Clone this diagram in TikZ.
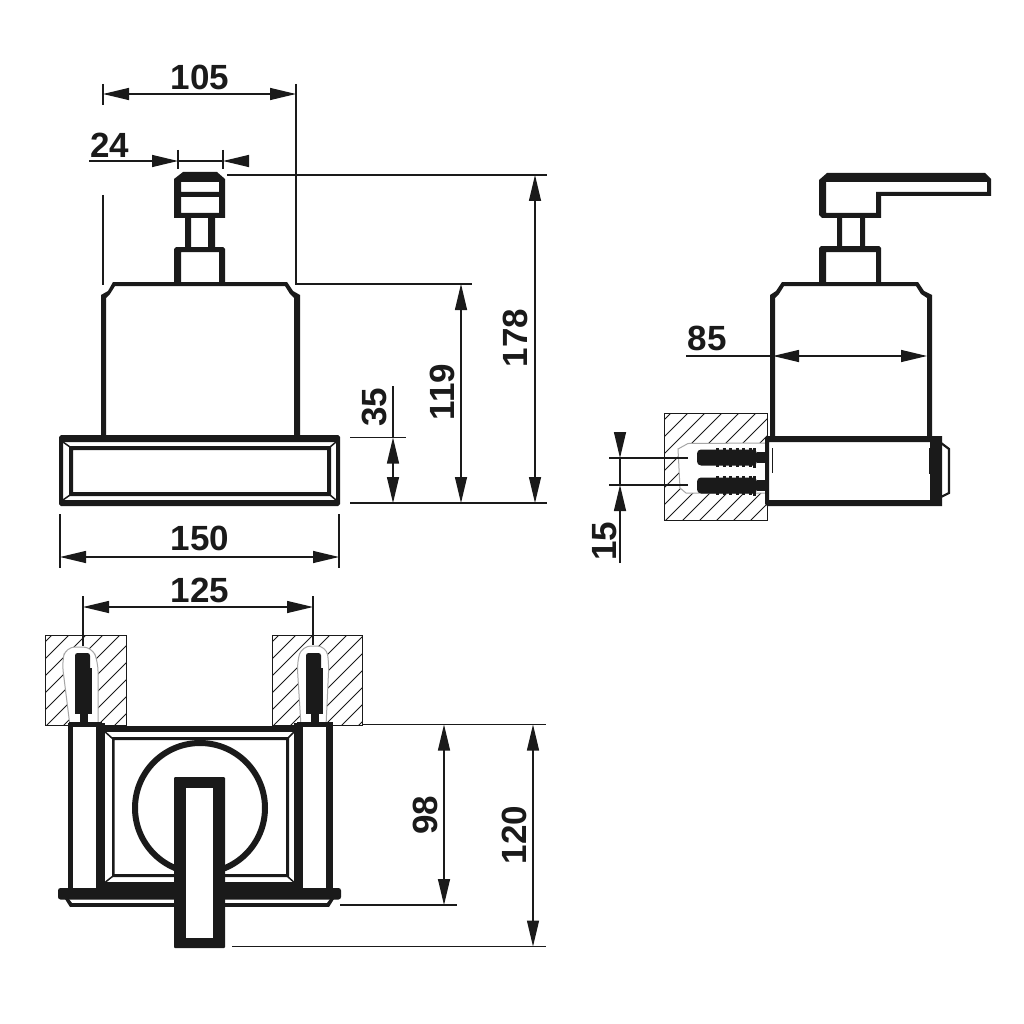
\documentclass[tikz,border=0pt]{standalone}
\usepackage{fontspec}
\setmainfont{Liberation Sans}
\usetikzlibrary{arrows.meta}
\definecolor{ink}{HTML}{1A1A1A}
\tikzset{
  dim/.style={draw=ink,line width=1.3pt},
  arr/.style={dim,-{Triangle[length=26pt,width=12pt]}},
  arrboth/.style={dim,{Triangle[length=26pt,width=12pt]}-{Triangle[length=26pt,width=12pt]}},
  label/.style={font=\fontsize{35}{35}\selectfont\bfseries,text=ink,inner sep=0pt},
  hatch/.style={draw=ink,line width=0.8pt},
  bold/.style={fill=ink,even odd rule},
  holeedge/.style={draw=gray!70,fill=white,line width=1pt},
  blockedge/.style={draw=ink,line width=1pt}
}
\newcommand{\hatchbox}[4]{%
  \begin{scope}
    \clip (#1,#2) rectangle (#3,#4);
    \foreach \k in {0,17,...,260}{\draw[hatch] (#1-110+\k,#4+10) -- ++(130,-130);}
  \end{scope}}
\begin{document}
\begin{tikzpicture}[x=1pt,y=-1pt]
\useasboundingbox (0,0) rectangle (1024,1024);
\fill[white] (0,0) rectangle (1024,1024);

%% ---------- front view ----------
\fill[bold] (183,172)--(217,172)--(225,179)--(225,218)--(174,218)--(174,179)--cycle
  (181,182) rectangle (219,192) (181,197) rectangle (219,213);
\fill[ink] (185,218) rectangle (191,248) (208,218) rectangle (215,248);
\fill[bold] (176,247)--(223,247)--(225,249)--(225,284)--(174,284)--(174,249)--cycle
  (181,252) rectangle (219,284);
\fill[bold] (113,282)--(287,282)--(293,291)--(300,295)--(300,438)--(101,438)--(101,295)--(108,291)--cycle
  (115,286)--(285,286)--(290,294)--(294,298)--(294,438)--(106,438)--(106,298)--(110,294)--cycle;
\fill[bold] (61,435)--(338,435)--(340,437)--(340,504)--(338,506)--(61,506)--(59,504)--(59,437)--cycle
  (63,442) rectangle (336,500);
\fill[bold] (69,446) rectangle (331,496) (73,450) rectangle (327,492);
\draw[ink,line width=1.5pt] (63,442)--(70,447) (336,442)--(330,447) (63,500)--(70,495) (336,500)--(330,495);

%% front dimensions
\coordinate (a1) at (103,94); \coordinate (a2) at (296,94);
\draw[arrboth] (a1)--(a2);
\draw[dim] (103,84)--(103,105) (296,84)--(296,284)--(472,284);
\draw[dim] (103,195)--(103,285);
\node[label] (t105) at (200,77) {105};
\draw[dim] (178,150)--(178,169) (223,150)--(223,169);
\coordinate (b0) at (89,161); \coordinate (b1) at (178,161); \coordinate (b2) at (223,161); \coordinate (b3) at (248,161);
\draw[arr] (b0)--(b1); \draw[arr] (b3)--(b2); \draw[dim] (b1)--(b2);
\node[label] (t24) at (110,145) {24};
\draw[dim] (227,175)--(547,175);
\draw[dim] (350,437.5)--(406,437.5) (350,503)--(547,503);
\draw[dim] (393,386)--(393,437.5);
\draw[arrboth] (393,437.5)--(393,503);
\node[label,rotate=90] (t35) at (374,407) {35};
\draw[arrboth] (461,284)--(461,503);
\node[label,rotate=90] (t119) at (442,392) {119};
\draw[arrboth] (535,175)--(535,503);
\node[label,rotate=90] (t178) at (515,338) {178};
\draw[dim] (60,514)--(60,568) (339,514)--(339,568);
\draw[arrboth] (60,557)--(339,557);
\node[label] (t150) at (200,538) {150};

%% ---------- side view ----------
\fill[bold] (827,173)--(985,173)--(991,179)--(991,196)--(881,196)--(881,218)--(822,218)--(819,215)--(819,180)--cycle
  (826,182)--(987,182)--(987,192)--(876,192)--(876,213)--(826,213)--cycle;
\fill[ink] (837,218) rectangle (842,248) (860,218) rectangle (865,248);
\fill[bold] (821,246)--(879,246)--(881,248)--(881,284)--(819,284)--(819,248)--cycle
  (826,252) rectangle (876,284);
\fill[bold] (782,282)--(918,282)--(924,291)--(932,295)--(932,438)--(770,438)--(770,295)--(776,291)--cycle
  (784,286)--(916,286)--(921,294)--(927,298)--(927,438)--(775,438)--(775,298)--(779,294)--cycle;

%% wall block side
\hatchbox{664}{413}{767}{520}
\draw[holeedge] (767,443)--(688,443.5)--(678,449)--(680,488)--(686,493)--(767,493);
\draw[blockedge] (664,413) rectangle (767,520);
\fill[bold] (767,436)--(942,436)--(942,506)--(767,506)--(765,504)--(765,438)--cycle
  (769,442) rectangle (930,500);
\fill[ink] (929,448) rectangle (935,474);
\draw[ink,line width=2.2pt] (941,443)--(949,449)--(949,493)--(941,497);
\draw[ink,line width=1pt] (772,448)--(772,473);
\foreach \yy in {457.5,485.5}{
  \fill[ink,rounded corners=4pt] (697,\yy-8) rectangle (757,\yy+8);
  \fill[ink] (757,\yy-5.5) rectangle (768,\yy+5.5);
  \fill[ink] (753,\yy-10) rectangle (756,\yy+10);
  \draw[ink,line width=2pt,dash pattern=on 3pt off 3.5pt] (716,\yy-8.5)--(752,\yy-8.5) (716,\yy+8.5)--(752,\yy+8.5);
}
\draw[dim] (609,458)--(688,458) (609,485)--(688,485);
\draw[arr] (620,432)--(620,458);
\draw[arr] (620,563)--(620,485);
\draw[dim] (620,458)--(620,485);
\node[label,rotate=90] (t15) at (605,541) {15};
\draw[dim] (686,356)--(773,356);
\draw[arrboth] (773,356)--(927,356);
\node[label] (t85) at (707,338) {85};

%% ---------- plan view ----------
\hatchbox{45}{635}{126}{725}
\hatchbox{272}{635}{362}{725}
\draw[holeedge,rounded corners=9pt] (70,726)--(62,662)--(66,647)--(92,647)--(98,662)--(98,726);
\draw[holeedge,rounded corners=9pt] (301,726)--(297,662)--(302,646)--(326,646)--(329,662)--(326,726);
\draw[blockedge] (45,635) rectangle (126,725);
\draw[blockedge] (272,635) rectangle (362,725);
\foreach \xx in {75,306}{
  \fill[ink,rounded corners=2.5pt] (\xx,653) rectangle (\xx+15,680);
  \fill[ink] (\xx,668) rectangle (\xx+17,714);
  \fill[ink] (\xx+5,712) rectangle (\xx+13,725);
}
\fill[ink] (68,723) rectangle (73,888);
\fill[ink] (96,723) rectangle (105,888);
\fill[ink] (294,723) rectangle (303,888);
\fill[ink] (326,723) rectangle (333,888);
\fill[ink] (69,722) rectangle (102,727);
\fill[ink] (297,722) rectangle (333,727);
\fill[ink] (102,726) rectangle (297,732);
\fill[bold] (112,737) rectangle (289,877) (114.5,740) rectangle (286,874);
\draw[ink,line width=1.5pt] (103,730)--(113,739) (296,730)--(287,739) (103,884)--(113,876) (296,884)--(287,876);
\draw[ink,line width=6pt] (200,808) circle (65);
\fill[ink] (98,882) rectangle (302,890);
\fill[ink,rounded corners=2.5pt] (58,888) rectangle (341,899.5);
\fill[ink] (65,899)--(69,899)--(72,903)--(70,907)--cycle (334,899)--(330,899)--(327,903)--(329,907)--cycle;
\fill[ink] (70,903) rectangle (329,907);
\fill[ink,rounded corners=1pt] (174,777) rectangle (225,948);
\fill[white] (186,788) rectangle (213,938);

%% plan dimensions
\draw[dim] (83,596)--(83,646) (313,596)--(313,645);
\draw[arrboth] (83,607)--(313,607);
\node[label] (t125) at (200,590) {125};
\draw[dim] (362,724.5)--(546,724.5) (340,905)--(457,905) (232,946.5)--(546,946.5);
\draw[arrboth] (444,724.5)--(444,905);
\node[label,rotate=90] (t98) at (425,815) {98};
\draw[arrboth] (533,724.5)--(533,946.5);
\node[label,rotate=90] (t120) at (514,835) {120};
\end{tikzpicture}
\end{document}
